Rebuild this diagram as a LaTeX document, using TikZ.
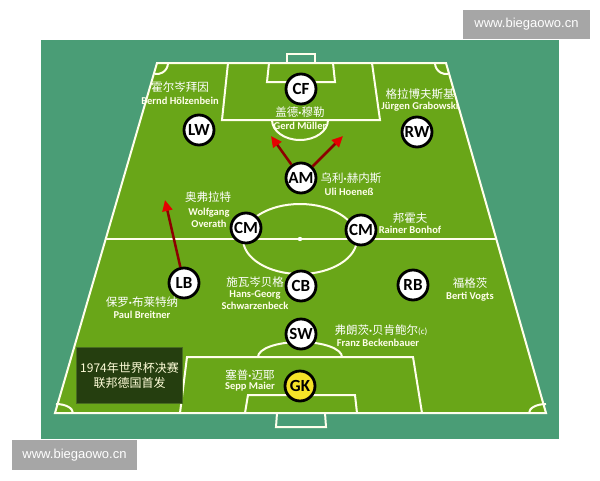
\documentclass[tikz,border=0pt]{standalone}
\usepackage{fontspec}
\setmainfont{Carlito}
\newfontfamily\cjk{Noto Sans CJK SC}
\newfontfamily\wmfont{Liberation Sans}
\usetikzlibrary{calc,arrows.meta}
\definecolor{fon}{RGB}{74,157,118}
\definecolor{trava}{RGB}{105,166,24}
\definecolor{plashka}{RGB}{37,62,15}
\definecolor{ramka}{RGB}{72,108,32}
\definecolor{znak}{RGB}{166,166,166}
\definecolor{vratar}{RGB}{245,226,40}
\newcommand{\tochka}{{\rmfamily\bfseries ·}}

\begin{document}
\begin{tikzpicture}[
        x=1pt,y=-1pt
        ,chalk/.style={draw=white!92!yellow,line width=2pt}
        ,disc/.style={circle,draw=black,fill=white,line width=2.8pt,minimum size=30pt,inner sep=0pt,font=\fontsize{17}{17}\selectfont\bfseries}
        ,hanzi/.style={text=white,font=\cjk\fontsize{11.5}{12}\selectfont,inner sep=0pt}
        ,latin/.style={text=white!92!yellow,font=\fontsize{10.5}{12}\selectfont\bfseries,inner sep=0pt,align=center}
        ,push/.style={draw=red!55!black,line width=2.5pt,-{Triangle[length=11pt,width=10pt,color=red!90!black]}}
        ,wm/.style={fill=znak,text=white,font=\wmfont\fontsize{13}{13}\selectfont,inner sep=0pt}
    ]
    \useasboundingbox (0,0) rectangle (600,480);
    % Фон
    \fill[fon] (41,40) rectangle (559,439);
    \node[wm,minimum width=127pt,minimum height=29pt] (wmtop) at (526.5,24.5) {www.biegaowo.cn};
    \node[wm,minimum width=125pt,minimum height=30pt] (wmbot) at (74.5,455) {www.biegaowo.cn};
    % Углы поля
    \coordinate (tl) at (157,63);
    \coordinate (tr) at (446,63);
    \coordinate (br) at (546,413);
    \coordinate (bl) at (55,413);
    \coordinate (hl) at ($ (tl)!0.503!(bl) $);
    \coordinate (hr) at ($ (tr)!0.503!(br) $);
    % Поле
    \filldraw[chalk,fill=trava] (tl) -- (tr) -- (br) -- (bl) -- cycle;
    \draw[chalk] (hl) -- (hr);
    \draw[chalk] (300,239) ellipse[x radius=57,y radius=35];
    \fill[white] (300,239) circle[radius=2.2];
    % Верхняя штрафная
    \draw[chalk] (228,63) -- (222,120) -- (380,120) -- (372,63);
    \draw[chalk] (269,63) -- (267,82) -- (335,82) -- (333,63);
    \draw[chalk] (287,63) -- (287,54) -- (315,54) -- (315,63);
    \draw[chalk] (272,120) arc[start angle=180,end angle=0,x radius=28,y radius=20];
    % Нижняя штрафная
    \draw[chalk] (180,413) -- (187,357) -- (413,357) -- (422,413);
    \draw[chalk] (245,413) -- (248,395) -- (355,395) -- (357,413);
    \draw[chalk] (277,413) -- (276,427) -- (326,427) -- (325,413);
    \draw[chalk] (258,357) arc[start angle=180,end angle=360,x radius=42,y radius=15];
    % Угловые
    \draw[chalk] (168,63) arc[start angle=0,end angle=100,radius=11];
    \draw[chalk] (435,63) arc[start angle=180,end angle=80,radius=11];
    \draw[chalk] (73,413) arc[start angle=0,end angle=-90,x radius=17,y radius=9];
    \draw[chalk] (529,413) arc[start angle=180,end angle=270,x radius=17,y radius=9];
    % Подпись
    \node[draw=ramka,fill=plashka,line width=1pt,minimum width=101pt,minimum height=56pt,
        text=white!85!yellow,font=\cjk\fontsize{12}{15}\selectfont,align=center] (itog) at (129.5,375)
        {1974年世界杯决赛\\联邦德国首发};
    % Игроки
    \node[disc] (cf) at (301,89) {CF};
    \node[disc] (lw) at (199,130) {LW};
    \node[disc] (rw) at (417,132) {RW};
    \node[disc] (am) at (301,178) {AM};
    \node[disc] (cml) at (246,228) {CM};
    \node[disc] (cmr) at (361,230) {CM};
    \node[disc] (lb) at (184,283) {LB};
    \node[disc] (cb) at (301,286) {CB};
    \node[disc] (rb) at (413,285) {RB};
    \node[disc] (sw) at (301,334) {SW};
    \node[disc,fill=vratar] (gk) at (300,386) {GK};
    % Рывки
    \coordinate (lbto) at (165,200);
    \coordinate (amto1) at (271,136);
    \coordinate (amto2) at (343,136);
    \draw[push] (lb) -- (lbto);
    \draw[push] (am) -- (amto1);
    \draw[push] (am) -- (amto2);
    % Имена
    \node[hanzi] (lwcn) at (180,87) {霍尔岑拜因};
    \node[latin] (lwen) at (180,101) {Bernd Hölzenbein};
    \node[hanzi] (cfcn) at (300,112) {盖德\tochka 穆勒};
    \node[latin] (cfen) at (300,126) {Gerd Müller};
    \node[hanzi] (rwcn) at (420,94) {格拉博夫斯基};
    \node[latin] (rwen) at (420,107) {Jürgen Grabowski};
    \node[hanzi] (amcn) at (351,178) {乌利\tochka 赫内斯};
    \node[latin] (amen) at (349,192) {Uli Hoeneß};
    \node[hanzi] (cmlcn) at (208,197) {奥弗拉特};
    \node[latin] (cmlen) at (209,217.5) {Wolfgang\\Overath};
    \node[hanzi] (cmrcn) at (410,218) {邦霍夫};
    \node[latin] (cmren) at (410,230) {Rainer Bonhof};
    \node[hanzi] (lbcn) at (142,302) {保罗\tochka 布莱特纳};
    \node[latin] (lben) at (142,315) {Paul Breitner};
    \node[hanzi] (cbcn) at (255,282) {施瓦岑贝格};
    \node[latin] (cben) at (255,300) {Hans-Georg\\Schwarzenbeck};
    \node[hanzi] (rbcn) at (470,283) {福格茨};
    \node[latin] (rben) at (470,297) {Berti Vogts};
    \node[hanzi] (swcn) at (381,330) {弗朗茨\tochka 贝肯鲍尔{\rmfamily\fontsize{9}{9}\selectfont(c)}};
    \node[latin] (swen) at (378,343) {Franz Beckenbauer};
    \node[hanzi] (gkcn) at (250,375) {塞普\tochka 迈耶};
    \node[latin] (gken) at (250,387) {Sepp Maier};
\end{tikzpicture}
\end{document}
